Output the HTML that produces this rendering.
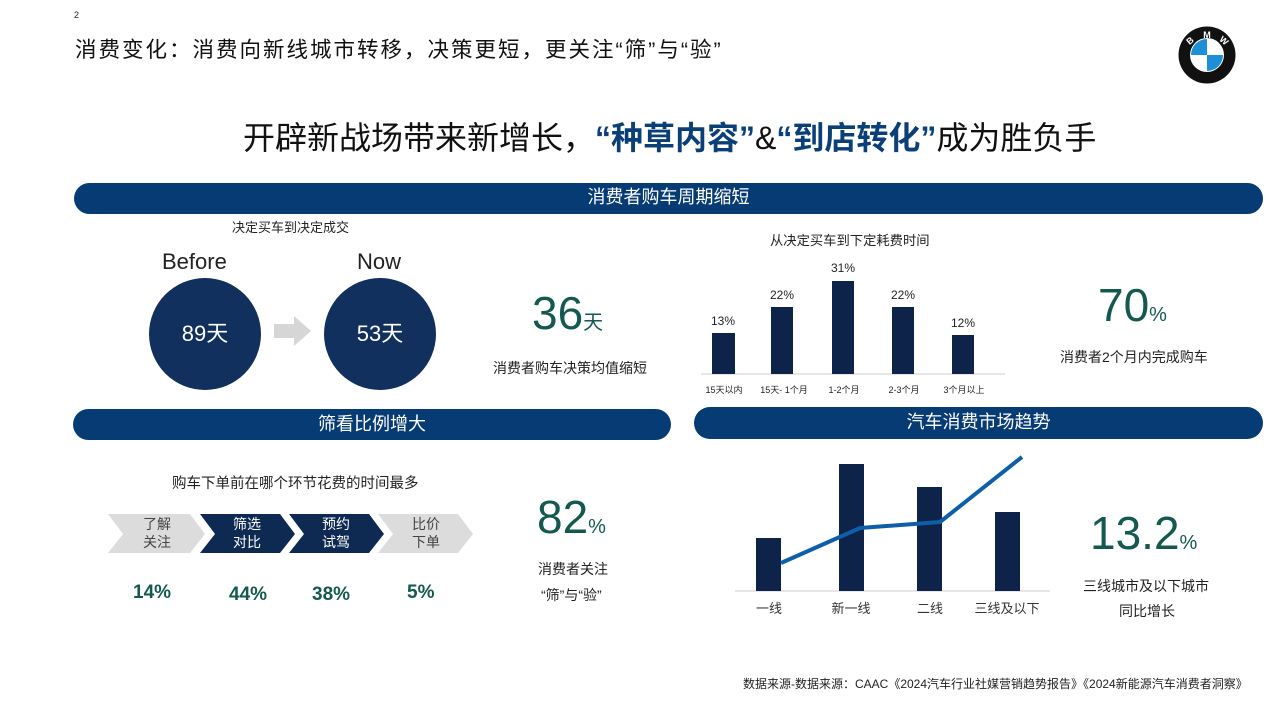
<!DOCTYPE html><html><head><meta charset="utf-8"><style>
body{margin:0;width:1280px;height:720px;background:#fff;position:relative;overflow:hidden;font-family:"Liberation Sans","Noto Sans CJK SC",sans-serif;color:#222}
.a{position:absolute;white-space:nowrap}
.bar{position:absolute;background:#063b73;color:#fff;font-size:18px;text-align:center;border-radius:16px}
.c{text-align:center}
.t{color:#14594f}
</style></head><body>
<div class="a" style="left:74px;top:10px;font-size:9px">2</div>
<div class="a" style="left:75px;top:33px;font-size:21.5px;letter-spacing:2px;color:#111">消费变化：消费向新线城市转移，决策更短，更关注“筛”与“验”</div>
<svg class="a" style="left:1178px;top:26px" width="58" height="58" viewBox="0 0 58 58">
<circle cx="29" cy="29" r="28.5" fill="#111"/><circle cx="29" cy="29" r="17" fill="#fff"/>
<path d="M29 29V13A16 16 0 0 0 13 29Z" fill="#1c8fd6"/><path d="M29 29V45A16 16 0 0 0 45 29Z" fill="#1c8fd6"/>
<text x="29" y="12" fill="#fff" font-size="9" font-weight="bold" text-anchor="middle" font-family="Liberation Sans">M</text>
<text x="14" y="17" fill="#fff" font-size="9" font-weight="bold" text-anchor="middle" transform="rotate(-40 14 17)" font-family="Liberation Sans">B</text>
<text x="44" y="17" fill="#fff" font-size="9" font-weight="bold" text-anchor="middle" transform="rotate(40 44 17)" font-family="Liberation Sans">W</text></svg>
<div class="a" style="left:243px;top:113px;font-size:32px;color:#111">开辟新战场带来新增长，<b style="color:#0b3f78">“种草内容”</b>&amp;<b style="color:#0b3f78">“到店转化”</b>成为胜负手</div>
<div class="bar" style="left:74px;top:183px;width:1189px;height:31px;line-height:29px">消费者购车周期缩短</div>
<div class="bar" style="left:73px;top:409px;width:598px;height:31px;line-height:30px">筛看比例增大</div>
<div class="bar" style="left:694px;top:407px;width:569px;height:32px;line-height:30px">汽车消费市场趋势</div>
<div class="a" style="left:232px;top:217px;font-size:13px">决定买车到决定成交</div>
<div class="a" style="left:162px;top:249px;font-size:22px">Before</div>
<div class="a" style="left:357px;top:249px;font-size:22px">Now</div>
<div class="a c" style="left:149px;top:278px;width:112px;height:112px;border-radius:50%;background:#12305d;color:#fff;font-size:22px;line-height:112px">89天</div>
<div class="a c" style="left:324px;top:278px;width:112px;height:112px;border-radius:50%;background:#12305d;color:#fff;font-size:22px;line-height:112px">53天</div>
<svg class="a" style="left:274px;top:316px" width="38" height="30"><path d="M0 8H20V0L37 15L20 30V22H0Z" fill="#d6d6d6"/></svg>
<div class="a t" style="left:532px;top:286px;font-size:46px">36<span style="font-size:20px">天</span></div>
<div class="a" style="left:493px;top:358px;font-size:14px">消费者购车决策均值缩短</div>
<div class="a" style="left:770px;top:230px;font-size:13.3px">从决定买车到下定耗费时间</div>
<svg class="a" style="left:690px;top:255px" width="330" height="145" font-family="Liberation Sans,Noto Sans CJK SC,sans-serif">
<line x1="11" y1="119" x2="315" y2="119" stroke="#ccc"/>
<g fill="#0d2349"><rect x="22" y="78" width="23" height="41"/><rect x="81" y="52" width="22" height="67"/><rect x="142" y="26" width="22" height="93"/><rect x="202" y="52" width="22" height="67"/><rect x="262" y="80" width="22" height="39"/></g>
<g font-size="12" text-anchor="middle" fill="#222"><text x="33" y="70">13%</text><text x="92" y="44">22%</text><text x="153" y="17">31%</text><text x="213" y="44">22%</text><text x="273" y="72">12%</text></g>
<g font-size="9" text-anchor="middle" fill="#222"><text x="34" y="138">15天以内</text><text x="94" y="138">15天- 1个月</text><text x="154" y="138">1-2个月</text><text x="214" y="138">2-3个月</text><text x="274" y="138">3个月以上</text></g></svg>
<div class="a t" style="left:1098px;top:278px;font-size:46px">70<span style="font-size:20px">%</span></div>
<div class="a" style="left:1060px;top:347px;font-size:14px">消费者2个月内完成购车</div>
<div class="a" style="left:172px;top:472px;font-size:14.5px">购车下单前在哪个环节花费的时间最多</div>
<svg class="a" style="left:108px;top:514px" width="370" height="40">
<path d="M0 0H82L97 20L82 39H0L15 20Z" fill="#dcdcdc"/>
<path d="M92 0H172L187 20L172 39H92L107 20Z" fill="#0e2a52"/>
<path d="M181 0H261L276 20L261 39H181L196 20Z" fill="#0e2a52"/>
<path d="M270 0H350L365 20L350 39H270L285 20Z" fill="#dcdcdc"/>
<g font-size="14" text-anchor="middle" font-family="Liberation Sans,Noto Sans CJK SC,sans-serif"><text x="49" y="15" fill="#444">了解</text><text x="49" y="33" fill="#444">关注</text><text x="139" y="15" fill="#fff">筛选</text><text x="139" y="33" fill="#fff">对比</text><text x="228" y="15" fill="#fff">预约</text><text x="228" y="33" fill="#fff">试驾</text><text x="318" y="15" fill="#444">比价</text><text x="318" y="33" fill="#444">下单</text></g></svg>
<div class="a t" style="left:133px;top:582px;font-size:19px;font-weight:bold">14%</div>
<div class="a t" style="left:229px;top:584px;font-size:19px;font-weight:bold">44%</div>
<div class="a t" style="left:312px;top:584px;font-size:19px;font-weight:bold">38%</div>
<div class="a t" style="left:407px;top:582px;font-size:19px;font-weight:bold">5%</div>
<div class="a t" style="left:537px;top:490px;font-size:46px">82<span style="font-size:20px">%</span></div>
<div class="a" style="left:538px;top:559px;font-size:14px">消费者关注</div>
<div class="a" style="left:541px;top:585px;font-size:14px">“筛”与“验”</div>
<svg class="a" style="left:730px;top:450px" width="330" height="175" font-family="Liberation Sans,Noto Sans CJK SC,sans-serif">
<line x1="5" y1="141" x2="320" y2="141" stroke="#ccc"/>
<g fill="#0d2349"><rect x="26" y="88" width="25" height="53"/><rect x="109" y="14" width="25" height="127"/><rect x="187" y="37" width="25" height="104"/><rect x="265" y="62" width="25" height="79"/></g>
<polyline points="51,113 130,78 210,72 292,7" fill="none" stroke="#0e5ea8" stroke-width="4"/>
<g font-size="13" text-anchor="middle" fill="#333"><text x="39" y="163">一线</text><text x="121" y="163">新一线</text><text x="200" y="163">二线</text><text x="277" y="163">三线及以下</text></g></svg>
<div class="a t" style="left:1090px;top:506px;font-size:46px">13.2<span style="font-size:20px">%</span></div>
<div class="a" style="left:1083px;top:576px;font-size:14px">三线城市及以下城市</div>
<div class="a" style="left:1119px;top:601px;font-size:14px">同比增长</div>
<div class="a" style="left:743px;top:675px;font-size:12px">数据来源-数据来源：CAAC《2024汽车行业社媒营销趋势报告》《2024新能源汽车消费者洞察》</div>
</body></html>
